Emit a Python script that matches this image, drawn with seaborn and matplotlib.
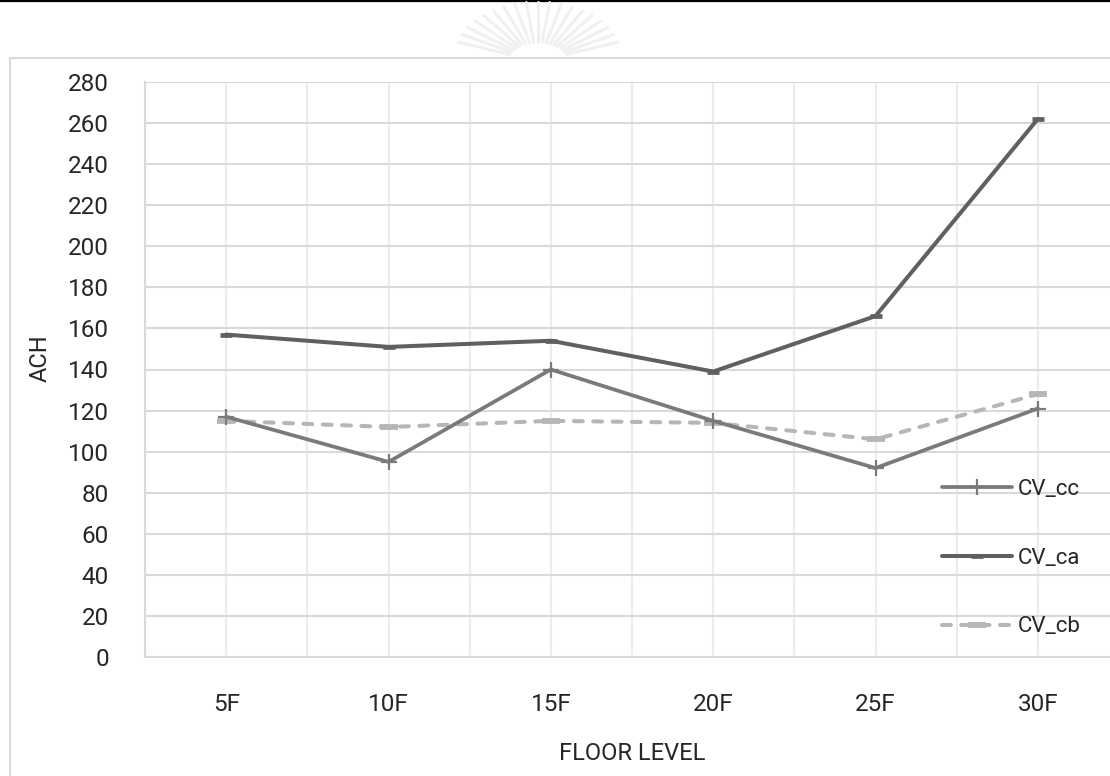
import numpy as np
import pandas as pd
import matplotlib
matplotlib.use("Agg")
import matplotlib.pyplot as plt
from matplotlib.lines import Line2D
from matplotlib.patches import Rectangle
import seaborn as sns

# Air changes per hour by floor level
floors = ["5F", "10F", "15F", "20F", "25F", "30F"]
cv_cc = [117, 95, 140, 115, 92, 121]
cv_ca = [157, 151, 154, 139, 166, 262]
cv_cb = [115, 112, 115, 114, 106, 128]
y_ticks = list(range(0, 281, 20))

sns.set_theme(style="white")
plt.rcParams["font.family"] = ["Roboto", "DejaVu Sans"]

W, H = 1110, 776
fig = plt.figure(figsize=(W / 100, H / 100), dpi=100)


def fx(x):
    return x / W


def fy(y):
    return 1 - y / H


# page rule and faint crest at the top of the page
fig.add_artist(Line2D([0, 1], [fy(1), fy(1)], color="black", lw=1.6,
                      transform=fig.transFigure))
cx, cy = 538, 60
for ang in np.linspace(18, 162, 19):
    t = np.deg2rad(ang)
    x0, y0 = cx + 30 * np.cos(t), cy - 18 * np.sin(t)
    x1, y1 = cx + 84 * np.cos(t), cy - 58 * np.sin(t)
    fig.add_artist(Line2D([fx(x0), fx(x1)], [fy(y0), fy(y1)], color="#f0f0f0",
                          lw=2.2, solid_capstyle="round", transform=fig.transFigure))

# chart frame
fig.add_artist(Rectangle((fx(10), fy(800)), fx(1200), fy(58) - fy(800),
                         fill=False, edgecolor="#d9d9d9", lw=1.5,
                         transform=fig.transFigure))

ax = fig.add_axes([fx(145), fy(657), fx(1119 - 145), fy(82) - fy(657)])
ax.set_facecolor("white")

df = pd.DataFrame({"floor": floors, "CV_cc": cv_cc, "CV_ca": cv_ca, "CV_cb": cv_cb})

styles = {
    "CV_ca": dict(color="#606060", lw=2.9, marker="_", ms=9, mew=3.4,
                  linestyle="-", zorder=3),
    "CV_cb": dict(color="#b6b6b6", lw=2.9, marker="_", ms=13, mew=4.2,
                  linestyle=(0, (2.2, 2.6)), dash_capstyle="round", zorder=3),
    "CV_cc": dict(color="#7a7a7a", lw=2.7, marker="+", ms=12, mew=1.6,
                  linestyle="-", zorder=4),
}

for name in ["CV_ca", "CV_cb", "CV_cc"]:
    st = styles[name]
    sns.lineplot(data=df, x="floor", y=name, ax=ax, sort=False,
                 color=st["color"], linewidth=st["lw"], marker=st["marker"],
                 markersize=st["ms"], markeredgewidth=st["mew"],
                 markeredgecolor=st["color"], linestyle=st["linestyle"],
                 zorder=st["zorder"],
                 **({"dash_capstyle": st["dash_capstyle"]} if "dash_capstyle" in st else {}))

ax.set_xlim(-0.5, len(floors) - 0.5)
ax.set_ylim(0, 280)
ax.set_yticks(y_ticks)
ax.set_xticks(range(len(floors)))
ax.set_xticklabels(floors)
ax.set_xticks(np.arange(-0.5, len(floors), 1), minor=True)

ax.grid(axis="y", which="major", color="#d9d9d9", lw=1.5)
ax.grid(axis="x", which="both", color="#ececec", lw=1.5)
ax.set_axisbelow(True)

for side in ["top", "right"]:
    ax.spines[side].set_visible(False)
for side in ["left", "bottom"]:
    ax.spines[side].set_color("#d9d9d9")
    ax.spines[side].set_linewidth(1.5)

ax.tick_params(axis="both", which="both", length=0, pad=26, labelsize=17.5,
               labelcolor="#262626")
ax.set_xlabel("")
ax.set_ylabel("")

fig.text(fx(632), fy(753), "FLOOR LEVEL", ha="center", va="center",
         fontsize=17, color="#262626")
fig.text(fx(40), fy(358), "ACH", ha="center", va="center", rotation=90,
         fontsize=17, color="#262626")

# legend
handles, labels = [], []
for name in ["CV_cc", "CV_ca", "CV_cb"]:
    st = styles[name]
    h = Line2D([], [], color=st["color"], lw=st["lw"], marker=st["marker"],
               ms=st["ms"], mew=st["mew"], mec=st["color"],
               linestyle=st["linestyle"])
    if "dash_capstyle" in st:
        h.set_dash_capstyle(st["dash_capstyle"])
    handles.append(h)
    labels.append(name)

ax.legend(handles, labels, loc="center left",
          bbox_to_anchor=(fx(942), fy(558)), bbox_transform=fig.transFigure,
          frameon=False, fontsize=16, borderpad=0, borderaxespad=0,
          handlelength=3.15, handletextpad=0.27, labelspacing=2.15,
          numpoints=1, labelcolor="#262626")

fig.savefig("out.png", dpi=100, facecolor="white")
